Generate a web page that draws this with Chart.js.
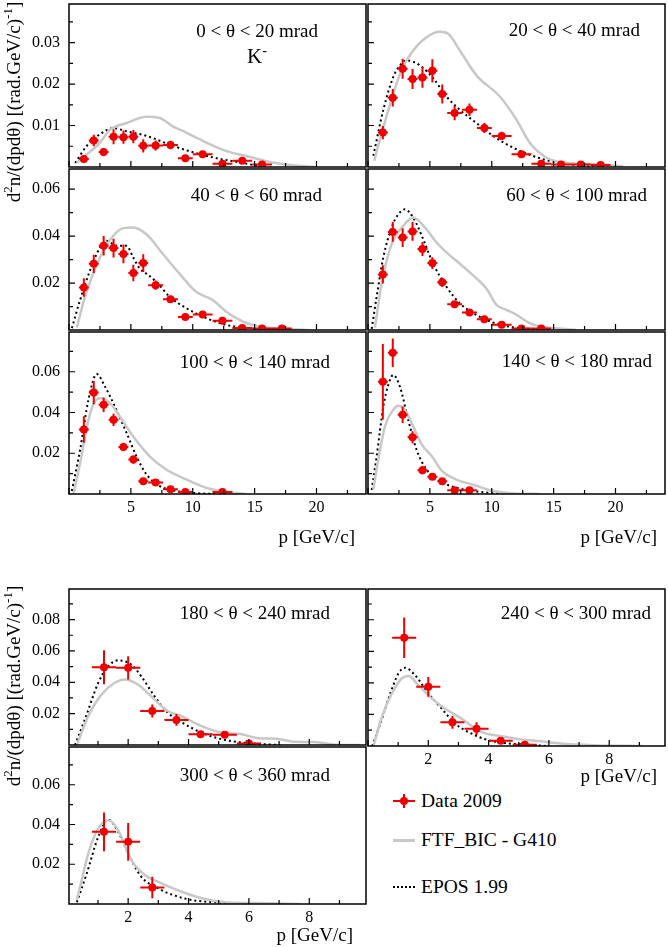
<!DOCTYPE html>
<html>
<head>
<meta charset="utf-8">
<script src="https://cdn.jsdelivr.net/npm/chart.js@4.4.1/dist/chart.umd.min.js"></script>
<style>
  body { margin: 0; background: #fff; width: 668px; height: 947px; position: relative; overflow: hidden;
         font-family: 'Liberation Serif', 'Times New Roman', serif; color: #000; }
  canvas { position: absolute; }
  .lbl { position: absolute; font-size: 19px; line-height: 19px; white-space: nowrap; }
  .ytitle { position: absolute; font-size: 19px; line-height: 19px; white-space: nowrap;
            transform: translate(-50%, -50%) rotate(-90deg); }
  sup { font-size: 0.68em; line-height: 0; vertical-align: 0.55em; }
  .mk { position: absolute; }
</style>
</head>
<body>
<script>
// momentum bins (GeV/c): centres and half widths
const pTop = [1.2, 2.0, 2.8, 3.6, 4.4, 5.2, 6.0, 7.0, 8.2, 9.4, 10.8, 12.4, 14.0, 15.6, 17.2, 18.8];
const dpTop = [0.4, 0.4, 0.4, 0.4, 0.4, 0.4, 0.4, 0.6, 0.6, 0.6, 0.8, 0.8, 0.8, 0.8, 0.8, 0.8];
const pBot = [1.2, 2.0, 2.8, 3.6, 4.4, 5.2, 6.0];
const dpBot = [0.4, 0.4, 0.4, 0.4, 0.4, 0.4, 0.4];

// Data 2009 values and errors per theta bin
const d020 = [0.0019, 0.0064, 0.0036, 0.0073, 0.0072, 0.0073, 0.0051, 0.0052, 0.0053, 0.0021, 0.0031, 0.0008, 0.0015, 0.0006, null, null];
const e020 = [0.0007, 0.0014, 0.001, 0.0018, 0.0016, 0.0016, 0.0016, 0.0012, 0.001, 0.0005, 0.0005, 0.0003, 0.0004, 0.0003, null, null];
const d2040 = [0.0083, 0.0167, 0.0237, 0.0212, 0.0216, 0.0232, 0.0176, 0.013, 0.0138, 0.0094, 0.0075, 0.0031, 0.0008, 0.0006, 0.0006, 0.0005];
const e2040 = [0.0016, 0.0021, 0.0024, 0.0024, 0.0025, 0.0028, 0.0023, 0.0017, 0.0015, 0.0012, 0.001, 0.0006, 0.0003, 0.0002, 0.0002, 0.0002];
const d4060 = [0.0181, 0.0282, 0.0359, 0.0349, 0.0324, 0.0243, 0.0285, 0.0191, 0.0131, 0.0055, 0.0066, 0.0039, 0.0008, 0.0006, 0.0006, null];
const e4060 = [0.0039, 0.0039, 0.0042, 0.004, 0.004, 0.0035, 0.0038, 0.002, 0.0015, 0.001, 0.001, 0.0008, 0.0003, 0.0003, 0.0003, null];
const d60100 = [0.0237, 0.0418, 0.0394, 0.042, 0.0345, 0.0285, 0.0203, 0.011, 0.0075, 0.0046, 0.0022, 0.0006, 0.0006, null, null, null];
const e60100 = [0.0039, 0.0042, 0.004, 0.004, 0.003, 0.0025, 0.002, 0.0012, 0.001, 0.0008, 0.0006, 0.0003, 0.0003, null, null, null];
const d100140 = [0.0316, 0.0498, 0.0438, 0.0364, 0.0231, 0.0169, 0.0063, 0.0056, 0.0023, 0.001, null, 0.001, null, null, null, null];
const e100140 = [0.0065, 0.0057, 0.0035, 0.003, 0.002, 0.002, 0.0012, 0.001, 0.0006, 0.0004, null, 0.0004, null, null, null, null];
const d140180 = [0.0551, 0.0693, 0.0389, 0.0278, 0.0117, 0.0085, 0.0063, 0.0018, 0.0019, null, null, null, null, null, null, null];
const e140180 = [0.0185, 0.007, 0.004, 0.003, 0.002, 0.0015, 0.0012, 0.0008, 0.0008, null, null, null, null, null, null, null];
const d180240 = [0.0496, 0.0492, 0.0217, 0.016, 0.0068, 0.0065, 0.001];
const e180240 = [0.0108, 0.0074, 0.0042, 0.0037, 0.0015, 0.0015, 0.0008];
const d240300 = [0.0686, 0.0375, 0.015, 0.011, 0.0034, 0.0008, null];
const e240300 = [0.0129, 0.0063, 0.004, 0.004, 0.0012, 0.0006, null];
const d300360 = [0.0363, 0.0313, 0.0083, null, null, null, null];
const e300360 = [0.0097, 0.0095, 0.0054, null, null, null, null];

// FTF_BIC - G410 curves [p, value]
const ftf020 = [[0.63, 0.0011], [2.51, 0.0059], [3.31, 0.009], [4.65, 0.0106], [6.26, 0.0121], [7.33, 0.0118], [8.39, 0.0098], [9.47, 0.0083], [10.54, 0.0067], [12.68, 0.0039], [14.8, 0.0023], [16.43, 0.0011], [18.03, 0.0004], [19.9, 0]];
const ftf2040 = [[0.5, 0.0015], [0.97, 0.0067], [1.9, 0.0162], [2.7, 0.0233], [3.65, 0.0281], [4.73, 0.0313], [5.8, 0.0326], [6.48, 0.0321], [7.42, 0.0281], [8.76, 0.0221], [10.65, 0.017], [12.0, 0.0114], [13.06, 0.0059], [14.4, 0.0023], [16.0, 0.001], [18.2, 0.0007], [20.6, 0.0002]];
const ftf4060 = [[0.63, 0.001], [1.3, 0.0142], [2.51, 0.031], [3.57, 0.0401], [4.38, 0.0434], [5.18, 0.0437], [6.26, 0.0408], [7.59, 0.0324], [8.93, 0.024], [10.27, 0.0163], [11.61, 0.0128], [12.68, 0.0079], [14.02, 0.0037], [15.62, 0.0013], [17.77, 0.0004], [19.37, 0]];
const ftf60100 = [[0.56, 0.001], [1.1, 0.0198], [1.91, 0.0366], [2.85, 0.0443], [3.65, 0.0479], [4.73, 0.0429], [5.54, 0.0373], [6.34, 0.0331], [7.42, 0.0282], [8.49, 0.0233], [9.57, 0.0177], [10.38, 0.0107], [11.18, 0.0086], [11.99, 0.0065], [13.06, 0.0029], [14.14, 0.0013], [15.48, 0.0006], [16.8, 0]];
const ftf100140 = [[0.36, 0], [0.9, 0.0153], [1.57, 0.0364], [2.1, 0.0454], [2.51, 0.047], [3.31, 0.0446], [4.11, 0.038], [5.18, 0.0283], [6.52, 0.0185], [7.86, 0.012], [9.47, 0.0072], [11.08, 0.0031], [12.68, 0.0011], [14.29, 0]];
const ftf140180 = [[0.43, 0.0023], [0.83, 0.0169], [1.37, 0.0332], [2.04, 0.0413], [2.45, 0.0433], [2.98, 0.0413], [3.65, 0.0332], [4.33, 0.0245], [5.16, 0.0185], [6.0, 0.0112], [7.1, 0.0072], [8.7, 0.0042], [9.84, 0.0018], [11.5, 0.0004], [13.9, 0]];
const ftf180240 = [[0.3, 0], [0.68, 0.0185], [1.12, 0.0323], [1.56, 0.0397], [1.89, 0.0418], [2.32, 0.0386], [2.87, 0.0291], [3.31, 0.0217], [3.75, 0.0185], [4.41, 0.0122], [5.07, 0.008], [5.72, 0.007], [6.38, 0.0042], [6.93, 0.004], [7.48, 0.0021], [8.14, 0.0019], [8.8, 0.0004], [9.67, 0]];
const ftf240300 = [[0.19, 0.0004], [0.46, 0.0185], [0.79, 0.0333], [1.12, 0.0428], [1.34, 0.0443], [1.67, 0.0386], [2.11, 0.0302], [2.55, 0.0238], [3.09, 0.0175], [3.75, 0.009], [4.4, 0.0063], [5.06, 0.0042], [5.72, 0.003], [6.38, 0.0016], [7.47, 0.0005], [9.1, 0]];
const ftf300360 = [[0.3, 0.0022], [0.41, 0.0088], [0.68, 0.0255], [1.01, 0.038], [1.34, 0.0422], [1.67, 0.0372], [2.1, 0.0222], [2.54, 0.0147], [3.09, 0.0105], [3.75, 0.0063], [4.41, 0.003], [5.29, 0.0008], [6.38, 0.0005], [7.7, 0]];

// EPOS 1.99 curves [p, value]
const epos020 = [[0.5, 0.001], [1.44, 0.0051], [2.51, 0.0079], [3.57, 0.0094], [4.65, 0.0086], [6.26, 0.0075], [8.39, 0.0051], [11.08, 0.0027], [13.75, 0.0011], [15.9, 0]];
const epos2040 = [[0.43, 0.0027], [1.24, 0.0138], [2.04, 0.0217], [2.58, 0.0245], [3.12, 0.0257], [4.19, 0.0245], [5.27, 0.0214], [6.34, 0.017], [7.42, 0.0138], [8.76, 0.0106], [10.1, 0.0075], [11.7, 0.0047], [13.3, 0.0027], [14.9, 0.0013], [16.8, 0.0005], [18.2, 0]];
const epos4060 = [[0.23, 0.0008], [0.9, 0.0128], [1.7, 0.0254], [2.51, 0.0352], [3.04, 0.038], [3.85, 0.0359], [4.65, 0.0359], [5.18, 0.031], [5.72, 0.0261], [6.26, 0.024], [7.06, 0.0205], [8.13, 0.0142], [9.47, 0.0093], [11.08, 0.0051], [12.68, 0.0022], [14.82, 0.0007], [16.7, 0]];
const epos60100 = [[0.3, 0.0005], [0.7, 0.0142], [1.24, 0.031], [1.91, 0.0437], [2.45, 0.0493], [2.98, 0.0514], [3.65, 0.0479], [4.46, 0.0387], [5.27, 0.0282], [6.34, 0.0184], [7.42, 0.0114], [8.76, 0.0064], [10.1, 0.0032], [11.7, 0.0012], [13.3, 0.0004], [14.9, 0]];
const epos100140 = [[0.23, 0.0015], [0.9, 0.0218], [1.57, 0.0462], [2.24, 0.0589], [2.91, 0.0527], [3.71, 0.0429], [4.65, 0.03], [5.45, 0.0185], [6.26, 0.0096], [7.33, 0.0039], [8.67, 0.0015], [10.27, 0.0004], [11.88, 0]];
const epos140180 = [[0.3, 0.002], [0.7, 0.0185], [1.24, 0.0429], [1.64, 0.0535], [2.04, 0.0584], [2.58, 0.0527], [3.25, 0.0364], [3.92, 0.0218], [4.73, 0.012], [5.8, 0.0063], [7.15, 0.0031], [8.5, 0.0015], [10.1, 0.0004], [11.7, 0]];
const epos180240 = [[0.24, 0], [0.57, 0.0165], [1.01, 0.0397], [1.34, 0.0502], [1.67, 0.054], [2.1, 0.0513], [2.43, 0.0439], [2.87, 0.0312], [3.31, 0.0207], [3.75, 0.0148], [4.41, 0.008], [5.07, 0.0038], [5.72, 0.0017], [6.38, 0.0006], [7.04, 0]];
const epos240300 = [[0.14, 0], [0.41, 0.0143], [0.74, 0.0333], [1.01, 0.046], [1.23, 0.0496], [1.56, 0.0449], [2.0, 0.0333], [2.44, 0.0238], [2.88, 0.0143], [3.42, 0.008], [3.97, 0.0038], [4.62, 0.0017], [5.28, 0.0008], [5.94, 0]];
const epos300360 = [[0.3, 0.0009], [0.63, 0.0155], [1.01, 0.0338], [1.34, 0.0425], [1.67, 0.0363], [2.0, 0.0255], [2.43, 0.0138], [2.98, 0.008], [3.53, 0.0043], [4.19, 0.0018], [4.95, 0.0008], [5.7, 0]];

const angleLabels = ['0 < θ < 20 mrad', '20 < θ < 40 mrad', '40 < θ < 60 mrad', '60 < θ < 100 mrad',
  '100 < θ < 140 mrad', '140 < θ < 180 mrad', '180 < θ < 240 mrad', '240 < θ < 300 mrad', '300 < θ < 360 mrad'];
const legendLabels = ['Data 2009', 'FTF_BIC - G410', 'EPOS 1.99'];

const RED = '#f00000';
const GREY = '#c8c8c8';
const FONT = "'Liberation Serif', 'Times New Roman', serif";
Chart.defaults.font.family = FONT;
Chart.defaults.color = '#000';

// panel layout: box = [left, top, right, bottom] in page pixels
const panels = [
  { box: [69, 3, 367, 168],    xr: [0, 24],       yr: [0, 0.0393], xt: [5, 2.5], yt: [0.01, 0.005], xLab: false, yLab: true,  p: pTop, dp: dpTop, v: d020,    e: e020,    ftf: ftf020,    epos: epos020,    lab: [318, 31] },
  { box: [367, 3, 666, 168],   xr: [0, 24],       yr: [0, 0.0393], xt: [5, 2.5], yt: [0.01, 0.005], xLab: false, yLab: false, p: pTop, dp: dpTop, v: d2040,   e: e2040,   ftf: ftf2040,   epos: epos2040,   lab: [640, 30] },
  { box: [69, 168, 367, 331],  xr: [0, 24],       yr: [0, 0.0686], xt: [5, 2.5], yt: [0.02, 0.01],  xLab: false, yLab: true,  p: pTop, dp: dpTop, v: d4060,   e: e4060,   ftf: ftf4060,   epos: epos4060,   lab: [322, 195] },
  { box: [367, 168, 666, 331], xr: [0, 24],       yr: [0, 0.0686], xt: [5, 2.5], yt: [0.02, 0.01],  xLab: false, yLab: false, p: pTop, dp: dpTop, v: d60100,  e: e60100,  ftf: ftf60100,  epos: epos60100,  lab: [647, 195] },
  { box: [69, 331, 367, 494],  xr: [0, 24],       yr: [0, 0.0795], xt: [5, 2.5], yt: [0.02, 0.01],  xLab: true,  yLab: true,  p: pTop, dp: dpTop, v: d100140, e: e100140, ftf: ftf100140, epos: epos100140, lab: [330, 362] },
  { box: [367, 331, 666, 494], xr: [0, 24],       yr: [0, 0.0795], xt: [5, 2.5], yt: [0.02, 0.01],  xLab: true,  yLab: false, p: pTop, dp: dpTop, v: d140180, e: e140180, ftf: ftf140180, epos: epos140180, lab: [652, 361] },
  { box: [69, 588, 367, 746],  xr: [0.04, 9.88],  yr: [0, 0.0995], xt: [2, 1],   yt: [0.02, 0.01],  xLab: false, yLab: true,  p: pBot, dp: dpBot, v: d180240, e: e180240, ftf: ftf180240, epos: epos180240, lab: [330, 613] },
  { box: [367, 588, 666, 746], xr: [0, 9.85],     yr: [0, 0.0995], xt: [2, 1],   yt: [0.02, 0.01],  xLab: true,  yLab: false, p: pBot, dp: dpBot, v: d240300, e: e240300, ftf: ftf240300, epos: epos240300, lab: [651, 613] },
  { box: [69, 746, 367, 904],  xr: [0.04, 9.88],  yr: [0, 0.079],  xt: [2, 1],   yt: [0.02, 0.01],  xLab: true,  yLab: true,  p: pBot, dp: dpBot, v: d300360, e: e300360, ftf: ftf300360, epos: epos300360, lab: [330, 775] }
];

// error bars, inward ticks and the frame of each pad
const padDeco = {
  id: 'padDeco',
  afterDatasetsDraw(chart) {
    const { ctx, chartArea: a, scales: { x, y } } = chart;
    const ds = chart.data.datasets[0];
    ctx.save();
    ctx.beginPath();
    ctx.rect(a.left, a.top, a.right - a.left, a.bottom - a.top);
    ctx.clip();
    ctx.strokeStyle = RED;
    ctx.lineWidth = 2;
    ds.data.forEach(d => {
      const px = x.getPixelForValue(d.x);
      const py = y.getPixelForValue(d.y);
      ctx.beginPath();
      ctx.moveTo(x.getPixelForValue(d.x - d.dx), py);
      ctx.lineTo(x.getPixelForValue(d.x + d.dx), py);
      ctx.moveTo(px, y.getPixelForValue(d.y - d.dy));
      ctx.lineTo(px, y.getPixelForValue(d.y + d.dy));
      ctx.stroke();
    });
    ctx.restore();
  },
  afterDraw(chart, args, opts) {
    const { ctx, chartArea: a, scales: { x, y } } = chart;
    ctx.save();
    ctx.strokeStyle = '#000';
    ctx.lineWidth = 1.2;
    ctx.beginPath();
    const isMajor = (v, m) => Math.abs(v / m - Math.round(v / m)) < 1e-6;
    for (let v = Math.ceil(x.min / opts.xt[1]) * opts.xt[1]; v < x.max; v += opts.xt[1]) {
      const px = x.getPixelForValue(v);
      ctx.moveTo(px, a.bottom);
      ctx.lineTo(px, a.bottom - (isMajor(v, opts.xt[0]) ? 6 : 4));
    }
    for (let v = opts.yt[1]; v < y.max; v += opts.yt[1]) {
      const py = y.getPixelForValue(v);
      ctx.moveTo(a.left, py);
      ctx.lineTo(a.left + (isMajor(v, opts.yt[0]) ? 6 : 4), py);
    }
    ctx.stroke();
    ctx.lineWidth = 1.5;
    ctx.strokeRect(a.left, a.top, a.right - a.left, a.bottom - a.top);
    ctx.restore();
  }
};

// keep the pad exactly where the box says: no extra room for label overhang
function noPad(s) {
  s.paddingTop = 0; s.paddingBottom = 0; s.paddingLeft = 0; s.paddingRight = 0;
}

panels.forEach((pn, k) => {
  const [L, T, R, B] = pn.box;
  const padL = pn.yLab ? L : 3;
  const padB = pn.xLab ? 26 : 3;
  const cx = L - padL;
  const cy = T - 3;
  const cv = document.createElement('canvas');
  cv.width = R + 3 - cx;
  cv.height = B + padB - cy;
  cv.style.left = cx + 'px';
  cv.style.top = cy + 'px';
  document.body.appendChild(cv);

  const pts = [];
  pn.p.forEach((p, i) => {
    if (pn.v[i] != null) pts.push({ x: p, y: pn.v[i], dx: pn.dp[i], dy: pn.e[i] });
  });

  new Chart(cv, {
    type: 'scatter',
    data: {
      datasets: [
        { data: pts, backgroundColor: RED, borderColor: RED, pointRadius: 4, pointHoverRadius: 4, borderWidth: 0 },
        { type: 'line', data: pn.ftf.map(([x, y]) => ({ x, y })), borderColor: GREY, borderWidth: 2.5,
          pointRadius: 0, cubicInterpolationMode: 'monotone', fill: false },
        { type: 'line', data: pn.epos.map(([x, y]) => ({ x, y })), borderColor: '#000', borderWidth: 2,
          borderDash: [2, 3], pointRadius: 0, cubicInterpolationMode: 'monotone', fill: false }
      ]
    },
    options: {
      responsive: false,
      animation: false,
      events: [],
      layout: { padding: { top: 3, right: 3, left: 0, bottom: 0 } },
      plugins: { legend: { display: false }, tooltip: { enabled: false }, padDeco: { xt: pn.xt, yt: pn.yt } },
      scales: {
        x: {
          type: 'linear', min: pn.xr[0], max: pn.xr[1],
          afterFit: s => { s.height = padB; noPad(s); },
          grid: { display: false, drawTicks: false }, border: { display: false },
          ticks: {
            display: pn.xLab, stepSize: pn.xt[0], includeBounds: false, padding: 4, maxRotation: 0,
            autoSkip: false, font: { family: FONT, size: 16 }, color: '#000',
            callback: v => (v > 0.5 ? String(Math.round(v)) : '')
          }
        },
        y: {
          type: 'linear', min: pn.yr[0], max: pn.yr[1],
          afterFit: s => { s.width = padL; noPad(s); },
          grid: { display: false, drawTicks: false }, border: { display: false },
          ticks: {
            display: pn.yLab, stepSize: pn.yt[0], includeBounds: false, padding: 9,
            font: { family: FONT, size: 16 }, color: '#000',
            callback: v => (v > 1e-6 ? v.toFixed(2) : '')
          }
        }
      }
    },
    plugins: [padDeco]
  });

  const lab = document.createElement('div');
  lab.className = 'lbl';
  lab.textContent = angleLabels[k];
  lab.style.right = (668 - pn.lab[0]) + 'px';
  lab.style.top = (pn.lab[1] - 9.7) + 'px';
  document.body.appendChild(lab);
});

// text outside the pads
function addText(html, css) {
  const d = document.createElement('div');
  d.className = css.cls || 'lbl';
  d.innerHTML = html;
  Object.assign(d.style, css.style);
  document.body.appendChild(d);
}
const yTitle = 'd<sup>2</sup>n/(dpdθ) [(rad.GeV/c)<sup>-1</sup>]';
addText(yTitle, { cls: 'ytitle', style: { left: '13px', top: '102px' } });
addText(yTitle, { cls: 'ytitle', style: { left: '13px', top: '686px' } });
[[355, 537], [657, 537], [657, 776], [353, 935]].forEach(([r, c]) => {
  addText('p [GeV/c]', { style: { right: (668 - r) + 'px', top: (c - 9.7) + 'px' } });
});
addText('K<sup>-</sup>', { style: { left: '247px', top: '46px', fontSize: '21px', lineHeight: '21px' } });

// legend
const legY = [801, 840, 887];
legendLabels.forEach((t, i) => {
  addText(t, { style: { left: '421px', top: (legY[i] - 10) + 'px', fontSize: '19.5px', lineHeight: '20px' } });
});
function mark(style) {
  const m = document.createElement('div');
  m.className = 'mk';
  Object.assign(m.style, style);
  document.body.appendChild(m);
}
mark({ left: '393px', top: (legY[0] - 1) + 'px', width: '22px', height: '2px', background: RED });
mark({ left: '403px', top: (legY[0] - 7) + 'px', width: '2px', height: '14px', background: RED });
mark({ left: '400px', top: (legY[0] - 4) + 'px', width: '8px', height: '8px', borderRadius: '50%', background: RED });
mark({ left: '393px', top: (legY[1] - 1) + 'px', width: '22px', height: '3px', background: GREY });
mark({ left: '393px', top: (legY[2] - 1) + 'px', width: '22px', height: '0', borderTop: '2px dotted #000' });
</script>
</body>
</html>
